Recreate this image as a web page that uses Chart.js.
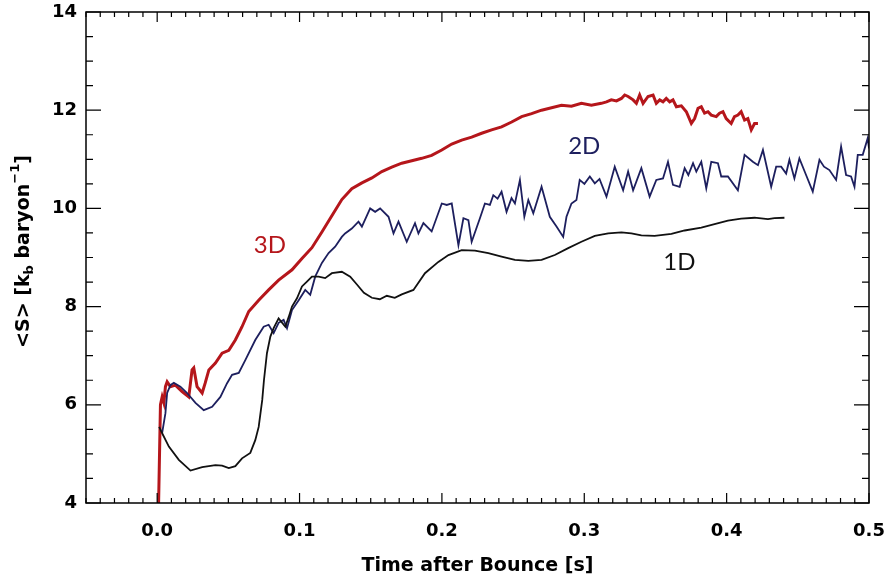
<!DOCTYPE html>
<html>
<head>
<meta charset="utf-8">
<script src="https://cdn.jsdelivr.net/npm/chart.js@4/dist/chart.umd.min.js"></script>
<style>
  html, body { margin: 0; padding: 0; background: #fff; }
  #wrap { width: 885px; height: 581px; }
</style>
</head>
<body>
<div id="wrap"><canvas id="chart"></canvas></div>
<script>
// 3D run (red)
const t3D = [0.001, 0.0023, 0.0035, 0.0047, 0.0058, 0.007, 0.0093, 0.0128, 0.0175, 0.0222, 0.0245, 0.0257, 0.028, 0.0316, 0.0337, 0.0363, 0.0409, 0.0456, 0.0503, 0.0549, 0.0596, 0.0643, 0.0713, 0.0783, 0.0853, 0.0947, 0.1017, 0.1087, 0.1157, 0.1227, 0.1297, 0.1367, 0.1438, 0.1508, 0.1578, 0.1648, 0.1718, 0.1788, 0.1858, 0.1928, 0.1999, 0.2069, 0.2139, 0.2209, 0.2279, 0.2349, 0.2419, 0.249, 0.256, 0.263, 0.27, 0.277, 0.284, 0.291, 0.298, 0.305,
  0.312, 0.3156, 0.319, 0.3226, 0.3261, 0.3284, 0.3308, 0.3343, 0.3366, 0.3389, 0.3413, 0.3448, 0.3483, 0.3506, 0.353, 0.3553, 0.3576, 0.36, 0.3623, 0.3647, 0.3682, 0.3717, 0.3752, 0.3775, 0.3799, 0.3822, 0.3845, 0.3869, 0.3892, 0.3927, 0.395, 0.3974, 0.3997, 0.4032, 0.4055, 0.4079, 0.4102, 0.4126, 0.4149, 0.4173, 0.4196, 0.422];
const s3D = [4.0, 6.0, 6.16, 6.04, 6.37, 6.47, 6.37, 6.40, 6.27, 6.16, 6.71, 6.75, 6.37, 6.24, 6.44, 6.71, 6.85, 7.05, 7.11, 7.32, 7.59, 7.90, 8.13, 8.34, 8.54, 8.75, 8.98, 9.2, 9.52, 9.85, 10.18, 10.4, 10.52, 10.62, 10.75, 10.84, 10.92, 10.97, 11.02, 11.08, 11.19, 11.31, 11.39, 11.45, 11.53, 11.6, 11.66, 11.76, 11.87, 11.93, 12.0, 12.05, 12.1, 12.08, 12.14, 12.1,
  12.14, 12.17, 12.21, 12.19, 12.24, 12.31, 12.28, 12.21, 12.14, 12.31, 12.14, 12.28, 12.31, 12.14, 12.21, 12.17, 12.24, 12.17, 12.21, 12.07, 12.09, 11.97, 11.73, 11.83, 12.04, 12.07, 11.94, 11.97, 11.90, 11.87, 11.94, 11.97, 11.83, 11.73, 11.87, 11.90, 11.97, 11.80, 11.83, 11.60, 11.73, 11.73];

// 2D run (navy)
const t2D = [0.0035, 0.0058, 0.007, 0.0093, 0.0117, 0.0163, 0.021, 0.0269, 0.0327, 0.0386, 0.0444, 0.0491, 0.0526, 0.0573, 0.0619, 0.0689, 0.0748, 0.0783, 0.0818, 0.0853, 0.0888, 0.0912, 0.0947, 0.0994, 0.104, 0.1075, 0.111, 0.1157, 0.1204, 0.125, 0.1297, 0.132, 0.1367, 0.1414, 0.1438, 0.1496, 0.1531, 0.1566, 0.1625, 0.166, 0.1695, 0.1753, 0.1811, 0.1835, 0.187, 0.1928, 0.1999, 0.2034, 0.2069, 0.2116, 0.2151, 0.2186, 0.2209, 0.2267, 0.2302, 0.2337, 0.2361, 0.2391, 0.2419, 0.2454, 0.2489, 0.2513, 0.2548, 0.2579, 0.2607, 0.2642, 0.27, 0.2758, 0.2805, 0.2852, 0.2875, 0.291, 0.2945, 0.2968, 0.3001, 0.3039, 0.3074, 0.3107, 0.3156, 0.3214, 0.3273, 0.3308, 0.3343, 0.3401, 0.3459, 0.3506, 0.3553, 0.3588, 0.3623, 0.367, 0.3705, 0.3731, 0.3764, 0.3787, 0.3822, 0.3857, 0.3892, 0.3939, 0.3962, 0.4009, 0.4079, 0.4126, 0.4184, 0.422, 0.4255, 0.4313, 0.4348, 0.4383, 0.4418, 0.4441, 0.4476, 0.4511, 0.4558, 0.4605, 0.4652, 0.4684, 0.4722, 0.4769, 0.4804, 0.4839, 0.4874, 0.4898, 0.4921, 0.4956, 0.4991, 0.5];
const s2D = [5.43, 5.83, 6.24, 6.40, 6.45, 6.37, 6.24, 6.04, 5.89, 5.96, 6.16, 6.44, 6.61, 6.65, 6.91, 7.32, 7.59, 7.63, 7.46, 7.67, 7.73, 7.56, 7.93, 8.13, 8.34, 8.24, 8.61, 8.89, 9.09, 9.22, 9.42, 9.49, 9.59, 9.73, 9.63, 10.0, 9.93, 10.0, 9.83, 9.49, 9.73, 9.32, 9.70, 9.49, 9.70, 9.53, 10.10, 10.07, 10.10, 9.25, 9.80, 9.76, 9.32, 9.80, 10.10, 10.07, 10.27, 10.2, 10.34, 9.93, 10.21, 10.10, 10.58, 9.83, 10.17, 9.90, 10.44, 9.83, 9.63, 9.42, 9.83, 10.10, 10.17, 10.58, 10.5, 10.65, 10.51, 10.6, 10.24, 10.85, 10.37, 10.75, 10.37, 10.82, 10.24, 10.58, 10.61, 10.95, 10.48, 10.44, 10.82, 10.68, 10.92, 10.75, 10.95, 10.41, 10.95, 10.92, 10.65, 10.65, 10.37, 11.09, 10.95, 10.88, 11.19, 10.44, 10.85, 10.85, 10.71, 10.99, 10.61, 11.02, 10.68, 10.34, 10.99, 10.85, 10.78, 10.58, 11.26, 10.68, 10.65, 10.44, 11.09, 11.09, 11.43, 11.22];

// 1D run (black)
const t1D = [0.0014, 0.0035, 0.0082, 0.0152, 0.0234, 0.0316, 0.0409, 0.0456, 0.0503, 0.0549, 0.0596, 0.0654, 0.0689, 0.0713, 0.0738, 0.075, 0.0771, 0.0795, 0.0818, 0.0853, 0.09, 0.0924, 0.0947, 0.0982, 0.1017, 0.1052, 0.1087, 0.1134, 0.118, 0.1227, 0.1297, 0.1356, 0.1403, 0.1452, 0.1508, 0.1564, 0.1613, 0.1669, 0.1718, 0.18, 0.1881, 0.1975, 0.2046, 0.2139, 0.2232, 0.2326, 0.2419, 0.2513, 0.2607, 0.27, 0.2793, 0.2887, 0.298, 0.3074, 0.3168, 0.3261, 0.3331, 0.3401, 0.3494, 0.3612, 0.3705, 0.3822, 0.3915, 0.4009, 0.4102, 0.4196, 0.429, 0.4336, 0.4406];
const s1D = [5.55, 5.42, 5.15, 4.88, 4.66, 4.73, 4.77, 4.76, 4.71, 4.75, 4.91, 5.02, 5.28, 5.55, 6.1, 6.5, 7.05, 7.39, 7.56, 7.76, 7.59, 7.79, 8.0, 8.17, 8.41, 8.51, 8.61, 8.61, 8.58, 8.68, 8.71, 8.61, 8.45, 8.28, 8.18, 8.15, 8.22, 8.18, 8.25, 8.34, 8.68, 8.91, 9.05, 9.15, 9.14, 9.09, 9.02, 8.95, 8.93, 8.95, 9.05, 9.19, 9.32, 9.44, 9.49, 9.51, 9.49, 9.45, 9.44, 9.48, 9.55, 9.61, 9.68, 9.75, 9.79, 9.81, 9.78, 9.80, 9.81];

const xTicks = [0.0, 0.1, 0.2, 0.3, 0.4, 0.5];
const yTicks = [4, 6, 8, 10, 12, 14];

// curve labels: text, x, y, colour
const curveLabels = [
  { text: '3D', x: 0.0792, y: 9.25, color: '#b5161b' },
  { text: '2D', x: 0.300, y: 11.27, color: '#1d1f5e' },
  { text: '1D', x: 0.3668, y: 8.91, color: '#111111' }
];

const pts = (t, s) => t.map((v, i) => ({ x: v, y: s[i] }));
const labelFont = { family: 'DejaVu Sans', size: 18, weight: 'bold' };

// frame, inward ticks, labels and the y title
const framePlugin = {
  id: 'frame',
  afterDraw(chart) {
    const { ctx, chartArea: ca, scales: { x, y } } = chart;
    ctx.save();
    ctx.strokeStyle = '#000';
    ctx.lineWidth = 1.5;
    ctx.strokeRect(ca.left, ca.top, ca.right - ca.left, ca.bottom - ca.top);
    ctx.lineWidth = 1.2;
    ctx.beginPath();
    for (let i = -5; i <= 50; i++) {
      const px = x.getPixelForValue(i / 100);
      const len = i % 10 === 0 ? 10 : 5;
      ctx.moveTo(px, ca.bottom); ctx.lineTo(px, ca.bottom - len);
      ctx.moveTo(px, ca.top); ctx.lineTo(px, ca.top + len);
    }
    for (let i = 8; i <= 28; i++) {
      const py = y.getPixelForValue(i / 2);
      const len = i % 4 === 0 ? 15 : 7;
      ctx.moveTo(ca.left, py); ctx.lineTo(ca.left + len, py);
      ctx.moveTo(ca.right, py); ctx.lineTo(ca.right - len, py);
    }
    ctx.stroke();

    ctx.font = '24px Lato';
    ctx.textAlign = 'center';
    ctx.textBaseline = 'middle';
    curveLabels.forEach(l => {
      ctx.fillStyle = l.color;
      ctx.fillText(l.text, x.getPixelForValue(l.x), y.getPixelForValue(l.y));
    });

    // y title with sub/superscript
    const big = 'bold 19px "DejaVu Sans"', small = 'bold 13px "DejaVu Sans"';
    const parts = [
      { t: '<S> [k', f: big, dy: 0 },
      { t: 'b', f: small, dy: 6 },
      { t: ' baryon', f: big, dy: 0 },
      { t: '\u22121', f: small, dy: -8 },
      { t: ']', f: big, dy: 0 }
    ];
    let total = 0;
    parts.forEach(p => { ctx.font = p.f; p.w = ctx.measureText(p.t).width; total += p.w; });
    ctx.translate(24, (ca.top + ca.bottom) / 2 - 6);
    ctx.rotate(-Math.PI / 2);
    ctx.fillStyle = '#000';
    ctx.textAlign = 'left';
    let cx = -total / 2;
    parts.forEach(p => { ctx.font = p.f; ctx.fillText(p.t, cx, p.dy); cx += p.w; });
    ctx.restore();
  }
};

new Chart(document.getElementById('chart'), {
  type: 'line',
  data: {
    datasets: [
      { label: '1D', data: pts(t1D, s1D), borderColor: '#111111', borderWidth: 1.8 },
      { label: '2D', data: pts(t2D, s2D), borderColor: '#1d1f5e', borderWidth: 1.8 },
      { label: '3D', data: pts(t3D, s3D), borderColor: '#b5161b', borderWidth: 3 }
    ]
  },
  options: {
    responsive: true,
    maintainAspectRatio: false,
    animation: false,
    layout: { padding: { top: 12, right: 16, left: 0, bottom: 0 } },
    elements: { point: { radius: 0 }, line: { tension: 0 } },
    plugins: { legend: { display: false }, tooltip: { enabled: false } },
    scales: {
      x: {
        type: 'linear', min: -0.05, max: 0.5,
        afterBuildTicks: s => { s.ticks = xTicks.map(v => ({ value: v })); },
        afterFit: s => { s.height = 78; s.paddingLeft = 0; s.paddingRight = 0; },
        grid: { display: false, drawTicks: false },
        border: { display: false },
        ticks: { color: '#000', font: labelFont, padding: 18, callback: v => v.toFixed(1), maxRotation: 0 },
        title: { display: true, text: 'Time after Bounce [s]', color: '#000', font: { family: 'DejaVu Sans', size: 19, weight: 'bold' }, padding: { top: 4 } }
      },
      y: {
        type: 'linear', min: 4, max: 14,
        afterBuildTicks: s => { s.ticks = yTicks.map(v => ({ value: v })); },
        afterFit: s => { s.width = 86; s.paddingTop = 0; s.paddingBottom = 0; },
        grid: { display: false, drawTicks: false },
        border: { display: false },
        ticks: { color: '#000', font: labelFont, padding: 9 }
      }
    }
  },
  plugins: [framePlugin]
});
</script>
</body>
</html>
